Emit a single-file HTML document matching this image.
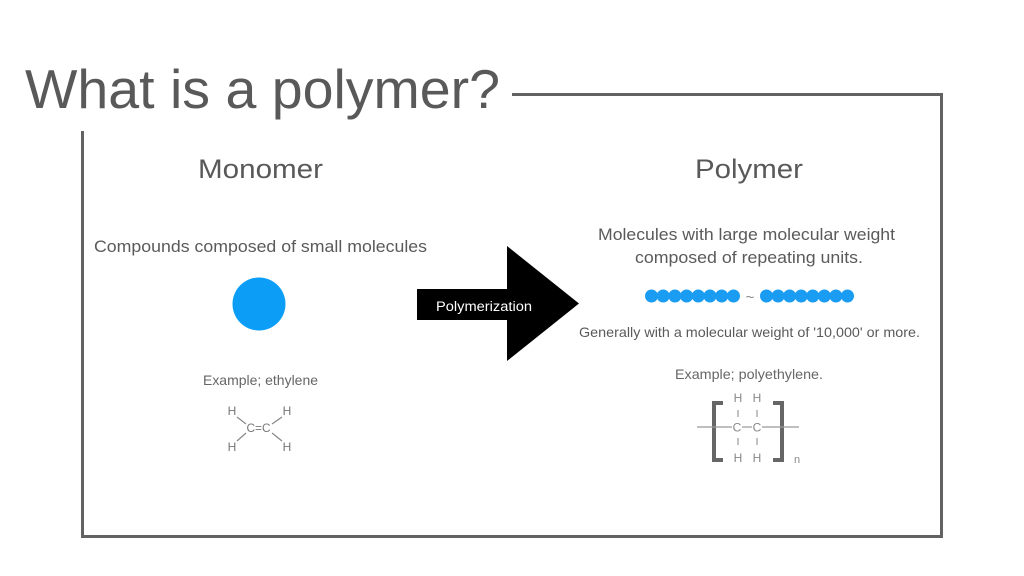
<!DOCTYPE html>
<html><head><meta charset="utf-8"><style>
html,body{margin:0;padding:0;background:#fff;width:1024px;height:576px;overflow:hidden}
svg{display:block}
text{font-family:"Liberation Sans",sans-serif}
</style></head><body>
<svg width="1024" height="576" viewBox="0 0 1024 576" xmlns="http://www.w3.org/2000/svg">
<rect width="1024" height="576" fill="#fff"/>
<!-- frame -->
<path d="M512 94.5 H941.5 V536.5 H82.5 V131" fill="none" stroke="#626262" stroke-width="3"/>
<!-- title -->
<text x="25" y="108" font-size="55" fill="#595959" textLength="475" lengthAdjust="spacingAndGlyphs">What is a polymer?</text>
<!-- headings -->
<text x="198" y="178" font-size="27" fill="#595959" textLength="125" lengthAdjust="spacingAndGlyphs">Monomer</text>
<text x="695" y="178" font-size="27" fill="#595959" textLength="108" lengthAdjust="spacingAndGlyphs">Polymer</text>
<!-- monomer side -->
<text x="94" y="252" font-size="17" fill="#5a5a5a" textLength="333" lengthAdjust="spacingAndGlyphs">Compounds composed of small molecules</text>
<circle cx="259" cy="304" r="26.5" fill="#0c9ef7"/>
<text x="203" y="385" font-size="14" fill="#666" textLength="115" lengthAdjust="spacingAndGlyphs">Example; ethylene</text>
<!-- ethylene -->
<g font-size="12" fill="#777" text-anchor="middle">
<text x="232" y="415">H</text>
<text x="287" y="415">H</text>
<text x="232" y="451">H</text>
<text x="287" y="451">H</text>
<text x="258.5" y="432" textLength="24" lengthAdjust="spacingAndGlyphs">C=C</text>
</g>
<g stroke="#888" stroke-width="1.2">
<line x1="237" y1="417" x2="246" y2="424"/>
<line x1="282" y1="417" x2="272" y2="424"/>
<line x1="237" y1="441" x2="246" y2="433"/>
<line x1="282" y1="441" x2="272" y2="433"/>
</g>
<!-- arrow -->
<polygon points="417,289 507,289 507,246 579,303.5 507,361 507,320 417,320" fill="#000"/>
<text x="436" y="311" font-size="13.5" fill="#fff" textLength="96" lengthAdjust="spacingAndGlyphs">Polymerization</text>
<!-- polymer side -->
<text x="598" y="240" font-size="17" fill="#5a5a5a" textLength="297" lengthAdjust="spacingAndGlyphs">Molecules with large molecular weight</text>
<text x="635" y="263" font-size="17" fill="#5a5a5a" textLength="228" lengthAdjust="spacingAndGlyphs">composed of repeating units.</text>
<g fill="#1a9cf2">
<circle cx="651.5" cy="296" r="6.5"/><circle cx="663.2" cy="296" r="6.5"/><circle cx="674.9" cy="296" r="6.5"/><circle cx="686.6" cy="296" r="6.5"/>
<circle cx="698.3" cy="296" r="6.5"/><circle cx="710" cy="296" r="6.5"/><circle cx="721.7" cy="296" r="6.5"/><circle cx="733.5" cy="296" r="6.5"/>
<circle cx="766.5" cy="296" r="6.5"/><circle cx="778.1" cy="296" r="6.5"/><circle cx="789.6" cy="296" r="6.5"/><circle cx="801.2" cy="296" r="6.5"/>
<circle cx="812.8" cy="296" r="6.5"/><circle cx="824.4" cy="296" r="6.5"/><circle cx="835.9" cy="296" r="6.5"/><circle cx="847.5" cy="296" r="6.5"/>
</g>
<text x="750" y="302" font-size="15" fill="#888" text-anchor="middle">~</text>
<text x="579" y="337" font-size="14" fill="#5a5a5a" textLength="341" lengthAdjust="spacingAndGlyphs">Generally with a molecular weight of '10,000' or more.</text>
<text x="675" y="379" font-size="14" fill="#666" textLength="148" lengthAdjust="spacingAndGlyphs">Example; polyethylene.</text>
<!-- polyethylene -->
<g fill="none" stroke="#666" stroke-width="4">
<path d="M723 403 H714 V460 H723"/>
<path d="M773 403 H782 V460 H773"/>
</g>
<g stroke="#999" stroke-width="1.2">
<line x1="697" y1="427" x2="732" y2="427"/>
<line x1="742" y1="427" x2="752" y2="427"/>
<line x1="762" y1="427" x2="799" y2="427"/>
<line x1="738" y1="410" x2="738" y2="417"/>
<line x1="757" y1="410" x2="757" y2="417"/>
<line x1="738" y1="438" x2="738" y2="445"/>
<line x1="757" y1="438" x2="757" y2="445"/>
</g>
<g font-size="12" fill="#888" text-anchor="middle">
<text x="738" y="402">H</text>
<text x="757" y="402">H</text>
<text x="737" y="431.5">C</text>
<text x="757" y="431.5">C</text>
<text x="738" y="462">H</text>
<text x="757" y="462">H</text>
<text x="797" y="463" font-size="11">n</text>
</g>
</svg>
</body></html>
